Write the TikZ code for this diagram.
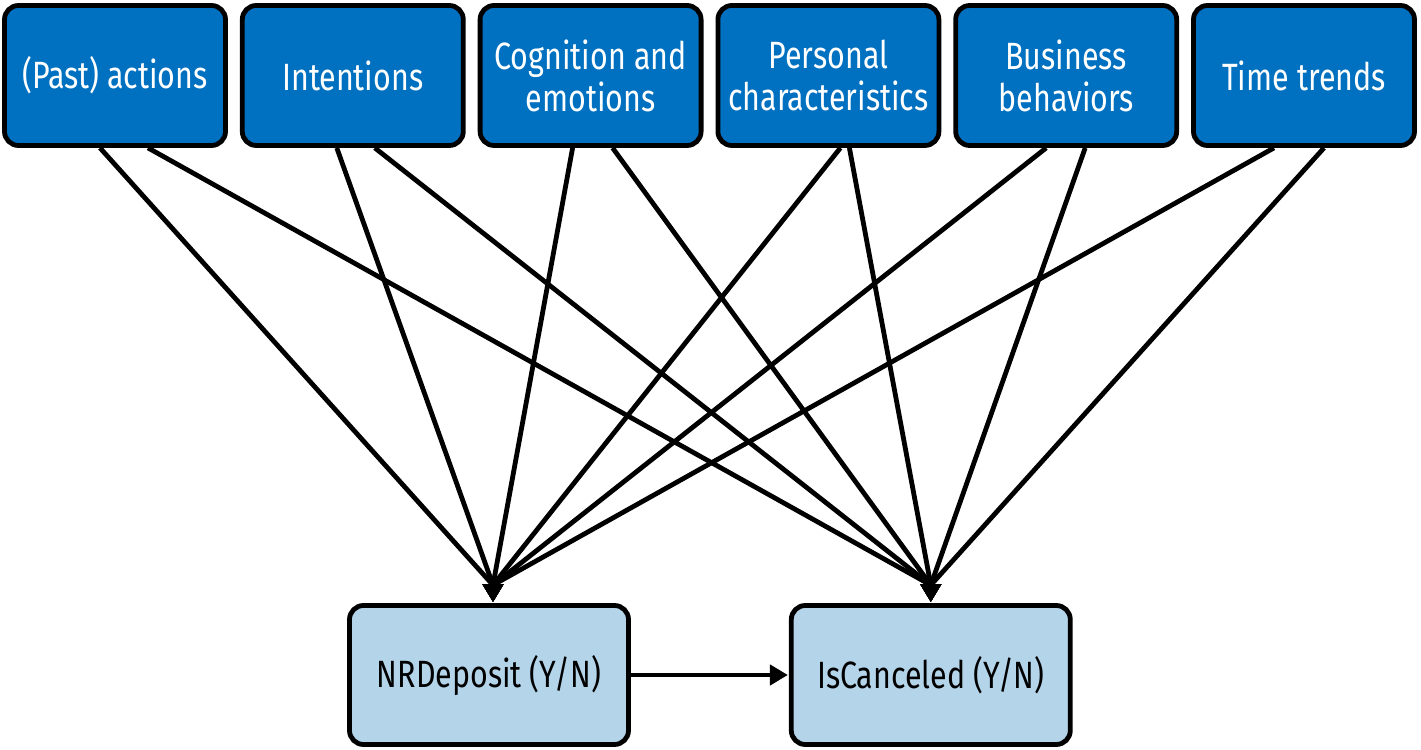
\documentclass[tikz,border=0pt]{standalone}
\usepackage{fontspec}
\setmainfont[FakeStretch=0.8]{Fira Sans}
\usetikzlibrary{arrows.meta,positioning}
\definecolor{topblue}{RGB}{0,112,192}
\definecolor{lowblue}{RGB}{180,212,234}

\begin{document}
\begin{tikzpicture}[x=0.5pt,y=0.5pt,>={Triangle[length=9pt,width=10pt]},shorten >=0.5pt,node distance=6pt,
    link/.style={->,line width=2.4pt,line join=round},
    factor/.style={rectangle,rounded corners=7pt,draw,line width=2.4pt,fill=topblue,text=white,minimum width=110.5pt,minimum height=70pt,align=center,font=\fontsize{19}{21}\selectfont},
    outcome/.style={rectangle,rounded corners=7pt,draw,line width=2.4pt,fill=lowblue,minimum width=139.5pt,minimum height=69.5pt,font=\fontsize{19}{21}\selectfont}]
        \useasboundingbox (0,0) rectangle (1421,750);

        \node[factor] (past) at (115,674.5) {(Past) actions};
        \node[factor] (intent) [right=of past] {Intentions};
        \node[factor] (cogn) [right=of intent] {Cognition and\\emotions};
        \node[factor] (pers) [right=of cogn] {Personal\\characteristics};
        \node[factor] (busi) [right=of pers] {Business\\behaviors};
        \node[factor] (time) [right=of busi] {Time trends};

        \node[outcome] (nrd) at (489,75) {NRDeposit (Y/N)};
        \node[outcome] (canc) [right=79pt of nrd] {IsCanceled (Y/N)};
        \coordinate (nrdin) at ([xshift=2pt]nrd.north);

        % every line comes into the box straight down
        \foreach \n/\a/\b in {past/-7.5/16.5,intent/-8/11,cogn/-9/11,pers/6/10.5,busi/-10/9.5,time/-15/10}
        {
            \draw[link] ([xshift=\a pt]\n.south) -- ([yshift=9pt]nrdin) -- (nrdin);
            \draw[link] ([xshift=\b pt]\n.south) -- ([yshift=9pt]canc.north) -- (canc.north);
        }
        \draw[link] (nrd) -- (canc);
    \end{tikzpicture}
\end{document}
